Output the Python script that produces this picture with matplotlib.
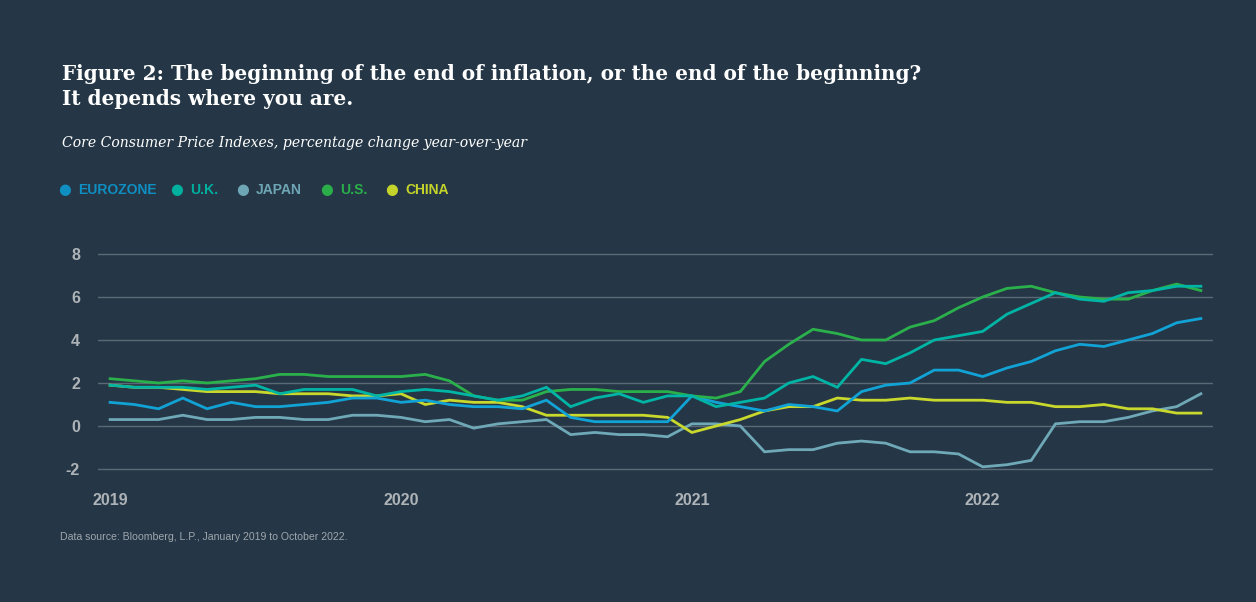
import numpy as np
import matplotlib
matplotlib.use("Agg")
import matplotlib.pyplot as plt

# Core CPI, % change y/y, monthly Jan 2019 - Oct 2022
eurozone = [1.1, 1.0, 0.8, 1.3, 0.8, 1.1, 0.9, 0.9, 1.0, 1.1, 1.3, 1.3,
            1.1, 1.2, 1.0, 0.9, 0.9, 0.8, 1.2, 0.4, 0.2, 0.2, 0.2, 0.2,
            1.4, 1.1, 0.9, 0.7, 1.0, 0.9, 0.7, 1.6, 1.9, 2.0, 2.6, 2.6,
            2.3, 2.7, 3.0, 3.5, 3.8, 3.7, 4.0, 4.3, 4.8, 5.0]
uk = [1.9, 1.8, 1.8, 1.8, 1.7, 1.8, 1.9, 1.5, 1.7, 1.7, 1.7, 1.4,
      1.6, 1.7, 1.6, 1.4, 1.2, 1.4, 1.8, 0.9, 1.3, 1.5, 1.1, 1.4,
      1.4, 0.9, 1.1, 1.3, 2.0, 2.3, 1.8, 3.1, 2.9, 3.4, 4.0, 4.2,
      4.4, 5.2, 5.7, 6.2, 5.9, 5.8, 6.2, 6.3, 6.5, 6.5]
japan = [0.3, 0.3, 0.3, 0.5, 0.3, 0.3, 0.4, 0.4, 0.3, 0.3, 0.5, 0.5,
         0.4, 0.2, 0.3, -0.1, 0.1, 0.2, 0.3, -0.4, -0.3, -0.4, -0.4, -0.5,
         0.1, 0.1, 0.0, -1.2, -1.1, -1.1, -0.8, -0.7, -0.8, -1.2, -1.2, -1.3,
         -1.9, -1.8, -1.6, 0.1, 0.2, 0.2, 0.4, 0.7, 0.9, 1.5]
us = [2.2, 2.1, 2.0, 2.1, 2.0, 2.1, 2.2, 2.4, 2.4, 2.3, 2.3, 2.3,
      2.3, 2.4, 2.1, 1.4, 1.2, 1.2, 1.6, 1.7, 1.7, 1.6, 1.6, 1.6,
      1.4, 1.3, 1.6, 3.0, 3.8, 4.5, 4.3, 4.0, 4.0, 4.6, 4.9, 5.5,
      6.0, 6.4, 6.5, 6.2, 6.0, 5.9, 5.9, 6.3, 6.6, 6.3]
china = [1.9, 1.8, 1.8, 1.7, 1.6, 1.6, 1.6, 1.5, 1.5, 1.5, 1.4, 1.4,
         1.5, 1.0, 1.2, 1.1, 1.1, 0.9, 0.5, 0.5, 0.5, 0.5, 0.5, 0.4,
         -0.3, 0.0, 0.3, 0.7, 0.9, 0.9, 1.3, 1.2, 1.2, 1.3, 1.2, 1.2,
         1.2, 1.1, 1.1, 0.9, 0.9, 1.0, 0.8, 0.8, 0.6, 0.6]

names = ["EUROZONE", "U.K.", "JAPAN", "U.S.", "CHINA"]
series = [eurozone, uk, japan, us, china]
line_colors = ["#12a3d6", "#00b5a5", "#6fa9b8", "#2bb14b", "#c9d82c"]
legend_colors = ["#0f8ec2", "#00b09f", "#6ea6b5", "#2aae49", "#c4d42a"]
years = ["2019", "2020", "2021", "2022"]
yticks = [8, 6, 4, 2, 0, -2]

bg = "#253746"
W, H = 1256, 602

fig = plt.figure(figsize=(W / 100, H / 100), dpi=100, facecolor=bg)

def px(x, y):
    return x / W, 1 - y / H

ax = fig.add_axes([98 / W, 1 - 473.3 / H, 1115 / W, 223.6 / H])
ax.set_facecolor(bg)
months = np.arange(len(eurozone))
# draw in an order so the busier lines sit on top like the original
for idx in [2, 4, 0, 3, 1]:
    ax.plot(months, series[idx], color=line_colors[idx], lw=2.0,
            solid_joinstyle="miter")

ax.set_xlim(-0.5, 45.5)
ax.set_ylim(-2.2, 8.2)
ax.set_yticks(yticks)
ax.set_yticklabels([str(v) for v in yticks])
ax.set_xticks([0, 12, 24, 36])
ax.set_xticklabels(years)
ax.grid(axis="y", color="#5b6976", lw=1)
ax.set_axisbelow(True)
for s in ax.spines.values():
    s.set_visible(False)
ax.tick_params(length=0, colors="#aeb3b8", labelsize=11.5)
ax.tick_params(axis="y", pad=13)
ax.tick_params(axis="x", pad=14)
for lab in ax.get_xticklabels() + ax.get_yticklabels():
    lab.set_fontweight("bold")
    lab.set_family("Liberation Sans")

fig.text(*px(62, 80), "Figure 2: The beginning of the end of inflation, or the end of the beginning?",
         color="white", fontsize=14.4, fontweight="bold",
         family="DejaVu Serif", va="baseline", ha="left")
fig.text(*px(62, 105), "It depends where you are.",
         color="white", fontsize=14.4, fontweight="bold",
         family="DejaVu Serif", va="baseline", ha="left")
fig.text(*px(62, 147), "Core Consumer Price Indexes, percentage change year-over-year",
         color="white", fontsize=10.1, style="italic", family="DejaVu Serif",
         va="baseline", ha="left")

leg_x = [65, 177, 243, 327, 392]
for x, name, c in zip(leg_x, names, legend_colors):
    fig.text(*px(x, 190), "\u25CF", color=c, fontsize=10.5, va="center", ha="center",
             family="DejaVu Sans")
    fig.text(*px(x + 13, 190), name, color=c, fontsize=10, fontweight="bold",
             family="Liberation Sans", va="center", ha="left")

fig.text(*px(60, 537), "Data source: Bloomberg, L.P., January 2019 to October 2022.",
         color="#9ea6ad", fontsize=7.6, family="Liberation Sans",
         va="center", ha="left")

fig.savefig("out.png", dpi=100, facecolor=bg)
